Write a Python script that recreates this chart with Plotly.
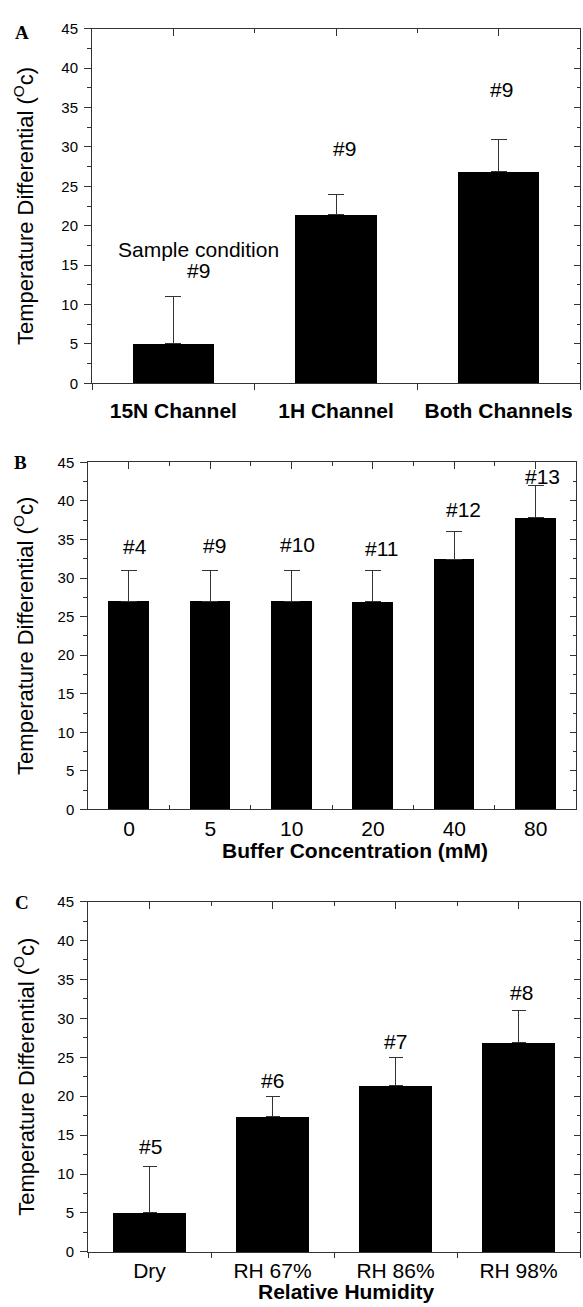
import plotly.graph_objects as go

# ---------------- data ----------------
a_categories = ["15N Channel", "1H Channel", "Both Channels"]
a_values = [5.0, 21.4, 26.9]
a_errors = [6.0, 2.6, 4.1]
a_labels = ["#9", "#9", "#9"]
a_note = "Sample condition"

b_categories = ["0", "5", "10", "20", "40", "80"]
b_values = [27.0, 27.0, 27.0, 26.9, 32.4, 37.8]
b_errors = [4.0, 4.0, 4.0, 4.1, 3.6, 4.2]
b_labels = ["#4", "#9", "#10", "#11", "#12", "#13"]
b_xtitle = "Buffer Concentration (mM)"

c_categories = ["Dry", "RH 67%", "RH 86%", "RH 98%"]
c_values = [5.0, 17.4, 21.4, 26.9]
c_errors = [6.0, 2.6, 3.6, 4.1]
c_labels = ["#5", "#6", "#7", "#8"]
c_xtitle = "Relative Humidity"

y_tickvals = [0, 5, 10, 15, 20, 25, 30, 35, 40, 45]
y_title = "Temperature Differential (<sup>O</sup>c)"
panel_letters = ["A", "B", "C"]

# ---------------- layout geometry ----------------
W, H = 583, 1307
FONT = "Liberation Sans, Arial, sans-serif"
AXC = "#333333"


def px_x(p):
    return p / W


def px_y(p):
    return 1 - p / H


panels = [
    dict(cats=a_categories, vals=a_values, errs=a_errors, labels=a_labels,
         xdom=[px_x(92), px_x(580)], ydom=[px_y(379.3), px_y(20)],
         barw=0.5, errw=8,
         lab_y=[14.3, 29.8, 37.3], lab_dx=[25, 8, 3],
         tickfont=dict(family=FONT, size=21, color="black", weight="bold"),
         bticks="outside", bticklen=6, standoff=8,
         letter_pos=(21.7, 24)),
    dict(cats=b_categories, vals=b_values, errs=b_errors, labels=b_labels,
         xdom=[px_x(88.3), px_x(576.3)], ydom=[px_y(811), px_y(459.3)],
         barw=0.5, errw=8,
         lab_y=[34.1, 34.2, 34.3, 33.8, 38.9, 43.2], lab_dx=[6, 4, 6, 9, 9, 7],
         tickfont=dict(family=FONT, size=21, color="black"),
         bticks="inside", bticklen=4, standoff=0,
         letter_pos=(20.7, 459)),
    dict(cats=c_categories, vals=c_values, errs=c_errors, labels=c_labels,
         xdom=[px_x(88), px_x(580)], ydom=[px_y(1259.3), px_y(904.3)],
         barw=0.6, errw=7,
         lab_y=[13.6, 22.0, 27.0, 33.3], lab_dx=[1, 0, 0, 3],
         tickfont=dict(family=FONT, size=21, color="black"),
         bticks="outside", bticklen=5, standoff=0,
         letter_pos=(22, 905)),
]

fig = go.Figure()
annotations = []
layout_axes = {}

for i, p in enumerate(panels):
    n = len(p["cats"])
    xm = 2 * i + 1          # main x axis number
    xt = 2 * i + 2          # top overlay x axis number
    ym = 2 * i + 1
    yr = 2 * i + 2
    xm_ref = "x" if xm == 1 else f"x{xm}"
    ym_ref = "y" if ym == 1 else f"y{ym}"
    xt_ref = f"x{xt}"
    yr_ref = f"y{yr}"
    xm_key = "xaxis" if xm == 1 else f"xaxis{xm}"
    ym_key = "yaxis" if ym == 1 else f"yaxis{ym}"

    fig.add_trace(go.Bar(
        x=p["cats"], y=p["vals"], width=p["barw"],
        marker=dict(color="black", line=dict(width=0)),
        error_y=dict(type="data", symmetric=False, array=p["errs"],
                     arrayminus=[0] * n, color=AXC, thickness=1, width=p["errw"]),
        xaxis=xm_ref, yaxis=ym_ref, showlegend=False, hoverinfo="skip"))
    # invisible trace so the mirrored top/right axes get drawn
    fig.add_trace(go.Scatter(x=[None], y=[None], xaxis=xt_ref, yaxis=yr_ref,
                             showlegend=False, hoverinfo="skip"))

    layout_axes[xm_key] = dict(
        domain=p["xdom"], anchor=ym_ref, type="category",
        categoryorder="array", categoryarray=p["cats"],
        range=[-0.5, n - 0.5], tickson="boundaries",
        ticks=p["bticks"], ticklen=p["bticklen"], tickwidth=1, tickcolor=AXC,
        showline=True, linecolor=AXC, linewidth=1, showgrid=False, zeroline=False,
        tickfont=p["tickfont"], ticklabelstandoff=p["standoff"], fixedrange=True)
    layout_axes[f"xaxis{xt}"] = dict(
        overlaying=xm_ref, anchor=ym_ref, side="top", type="linear",
        range=[-0.5, n - 0.5], tick0=0, dtick=1,
        ticks="inside", ticklen=7, tickwidth=1, tickcolor=AXC,
        minor=dict(dtick=0.5, tick0=0, ticks="inside", ticklen=4, tickwidth=1, tickcolor=AXC),
        showticklabels=False, showline=True, linecolor=AXC, linewidth=1,
        showgrid=False, zeroline=False)
    layout_axes[ym_key] = dict(
        domain=p["ydom"], anchor=xm_ref, range=[0, 45],
        tickmode="array", tickvals=y_tickvals,
        ticks="outside", ticklen=7, tickwidth=1, tickcolor=AXC,
        minor=dict(dtick=2.5, tick0=0, ticks="outside", ticklen=4, tickwidth=1, tickcolor=AXC),
        showline=True, linecolor=AXC, linewidth=1, showgrid=False, zeroline=False,
        tickfont=dict(family=FONT, size=15, color="black"), ticklabelstandoff=3)
    layout_axes[f"yaxis{yr}"] = dict(
        overlaying=ym_ref, anchor=xm_ref, side="right", range=[0, 45],
        tickmode="array", tickvals=y_tickvals,
        ticks="inside", ticklen=6, tickwidth=1, tickcolor=AXC,
        minor=dict(dtick=2.5, tick0=0, ticks="inside", ticklen=3, tickwidth=1, tickcolor=AXC),
        showticklabels=False, showline=True, linecolor=AXC, linewidth=1,
        showgrid=False, zeroline=False)

    # value labels (placed by category index on the category axis)
    for k, (lab, ly, dx) in enumerate(zip(p["labels"], p["lab_y"], p["lab_dx"])):
        annotations.append(dict(x=k, y=ly, xref=xm_ref, yref=ym_ref, text=lab,
                                showarrow=False, xanchor="center", yanchor="middle",
                                xshift=dx, font=dict(family=FONT, size=21, color="black")))

    # y-axis title
    yc = (p["ydom"][0] + p["ydom"][1]) / 2
    annotations.append(dict(x=px_x(24), y=yc, xref="paper", yref="paper",
                            text=y_title, textangle=-90, showarrow=False,
                            xanchor="center", yanchor="middle",
                            font=dict(family=FONT, size=22, color="black")))
    # panel letter
    lx, ly = p["letter_pos"]
    annotations.append(dict(x=px_x(lx), y=px_y(ly), xref="paper", yref="paper",
                            text=f"<b>{panel_letters[i]}</b>", showarrow=False,
                            xanchor="center", yanchor="middle",
                            font=dict(family="Liberation Serif, Times New Roman, serif",
                                      size=19, color="black")))

# extra text in panel A
annotations.append(dict(x=0, y=17.0, xref="x", yref="y", text=a_note,
                        showarrow=False, xanchor="center", yanchor="middle", xshift=25,
                        font=dict(family=FONT, size=21, color="black")))
# x-axis titles for panels B and C
annotations.append(dict(x=px_x(354.7), y=px_y(853), xref="paper", yref="paper",
                        text=b_xtitle, showarrow=False, xanchor="center", yanchor="middle",
                        font=dict(family=FONT, size=21, color="black", weight="bold")))
annotations.append(dict(x=px_x(346.6), y=px_y(1299), xref="paper", yref="paper",
                        text=c_xtitle, showarrow=False, xanchor="center", yanchor="middle",
                        font=dict(family=FONT, size=21, color="black", weight="bold")))

fig.update_layout(
    width=W, height=H, margin=dict(l=0, r=0, t=0, b=0),
    paper_bgcolor="white", plot_bgcolor="white",
    annotations=annotations, bargap=0, showlegend=False,
    **layout_axes)

fig.write_html("out.html")
